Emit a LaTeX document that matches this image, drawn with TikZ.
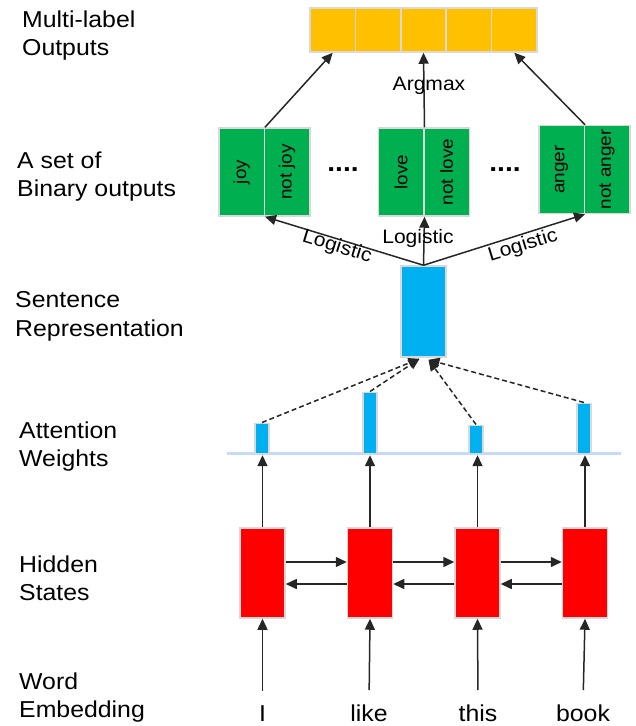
\documentclass[tikz,border=0pt]{standalone}
\usepackage{fontspec}
\setmainfont{Liberation Sans}[FakeStretch=1.08]
\usetikzlibrary{arrows.meta,calc}
\definecolor{cyel}{RGB}{255,192,0}
\definecolor{cgrn}{RGB}{0,176,80}
\definecolor{cblu}{RGB}{0,176,240}
\definecolor{cred}{RGB}{255,0,0}
\definecolor{cbrd}{RGB}{217,217,217}
\definecolor{cline}{RGB}{197,217,248}
\definecolor{carr}{RGB}{38,38,38}
\begin{document}
\begin{tikzpicture}[x=1pt,y=-1pt,
  box/.style={draw=cbrd,line width=1.5pt,inner sep=0pt},
  ycell/.style={box,fill=cyel,minimum width=45.4pt,minimum height=44pt},
  gcell/.style={box,fill=cgrn,minimum width=45.5pt,minimum height=88pt,font=\fontsize{17.5}{20}\selectfont},
  hcell/.style={box,fill=cred,minimum width=45pt,minimum height=90pt},
  abar/.style={box,fill=cblu,minimum width=14pt,anchor=south},
  lab/.style={font=\fontsize{23}{28.5}\selectfont,align=left,anchor=north west,inner sep=0pt},
  word/.style={font=\fontsize{23}{28}\selectfont,anchor=base,inner sep=0pt},
  small/.style={font=\fontsize{19.5}{22}\selectfont,inner sep=0pt},
  arr/.style={draw=carr,line width=1.5pt,-{Triangle[length=11pt,width=10pt]}},
  darr/.style={arr,dash pattern=on 5pt off 3pt}
]
\useasboundingbox (0,0) rectangle (636,726);

% left labels
\node[lab] (l1) at (22,10.5) {Multi-label\\Outputs};
\node[lab] (l2) at (17,151.5) {A set of\\Binary outputs};
\node[lab] (l3) at (15,291.5) {Sentence\\Representation};
\node[lab] (l4) at (19,421.5) {Attention\\Weights};
\node[lab] (l5) at (19,555.5) {Hidden\\States};
\node[lab] (l6) at (19,672.5) {Word\\Embedding};

% yellow outputs
\node[ycell] (y1) at (332.7,30) {};
\node[ycell] (y2) at (378.1,30) {};
\node[ycell] (y3) at (423.5,30) {};
\node[ycell] (y4) at (468.9,30) {};
\node[ycell] (y5) at (514.3,30) {};

% green binary outputs
\node[gcell] (jL) at (241.5,172) {\rotatebox{90}{joy}};
\node[gcell] (jR) at (287,172) {\rotatebox{90}{not joy}};
\node[gcell] (lL) at (401,172) {\rotatebox{90}{love}};
\node[gcell] (lR) at (446.5,172) {\rotatebox{90}{not love}};
\node[gcell] (aL) at (561.5,169.5) {\rotatebox{90}{anger}};
\node[gcell] (aR) at (607,169.5) {\rotatebox{90}{not anger}};
\node[font=\fontsize{26}{28}\bfseries,inner sep=0pt] (d1) at (343,170) {....};
\node[font=\fontsize{26}{28}\bfseries,inner sep=0pt] (d2) at (505,170) {....};

% sentence representation
\node[box,fill=cblu,minimum width=45pt,minimum height=91pt] (s) at (423.5,311.5) {};

% arrows to outputs
\draw[arr] (jL.north east) -- (y1.south);
\draw[arr] (lL.north east) -- (y3.south);
\draw[arr] (aL.north east) -- (y5.south);
\node[small] (am) at (429,86) {Argmax};

% logistic arrows
\draw[arr] (s.north) -- (jL.south east);
\draw[arr] (s.north) -- (lL.south east);
\draw[arr] (s.north) -- (aL.south east);
\node[small,rotate=-17] (lg1) at (337,247) {Logistic};
\node[small] (lg2) at (418,238) {Logistic};
\node[small,rotate=17] (lg3) at (523,246) {Logistic};

% attention weights
\node[fill=cline,minimum width=394pt,minimum height=3pt,inner sep=0pt] (base) at (424,453.5) {};
\node[abar,minimum height=30pt] (a1) at (262,454) {};
\node[abar,minimum height=61pt] (a2) at (370,454) {};
\node[abar,minimum height=28pt] (a3) at (476,454) {};
\node[abar,minimum height=50pt] (a4) at (584,454) {};

\draw[darr] (a1.north) -- ($(s.south)+(-4,1)$);
\draw[darr] (a2.north) -- ($(s.south)+(-4,1)$);
\draw[darr] (a3.north) -- ($(s.south)+(5,2)$);
\draw[darr] (a4.north) -- ($(s.south)+(5,2)$);

% hidden states
\node[hcell] (h1) at (262.5,573) {};
\node[hcell] (h2) at (370,573) {};
\node[hcell] (h3) at (477.5,573) {};
\node[hcell] (h4) at (585,573) {};

\foreach \a/\b in {h1/h2,h2/h3,h3/h4}{
  \draw[arr] ($(\a.east)+(0,-11)$) -- ($(\b.west)+(0,-11)$);
  \draw[arr] ($(\b.west)+(0,11)$) -- ($(\a.east)+(0,11)$);
}
\foreach \h in {h1,h2,h3,h4}{
  \draw[arr] (\h.north) -- (\h.north |- base.south);
}

% words
\node[word] (w1) at (262.5,721) {I};
\node[word] (w2) at (369,721) {like};
\node[word] (w3) at (478,721) {this};
\node[word] (w4) at (583,721) {book};
\draw[arr,shorten <=14pt] (w1.north) -- (h1.south);
\draw[arr,shorten <=14pt] (w2.north) -- (h2.south);
\draw[arr,shorten <=14pt] (w3.north) -- (h3.south);
\draw[arr,shorten <=14pt] (w4.north) -- (h4.south);
\end{tikzpicture}
\end{document}
